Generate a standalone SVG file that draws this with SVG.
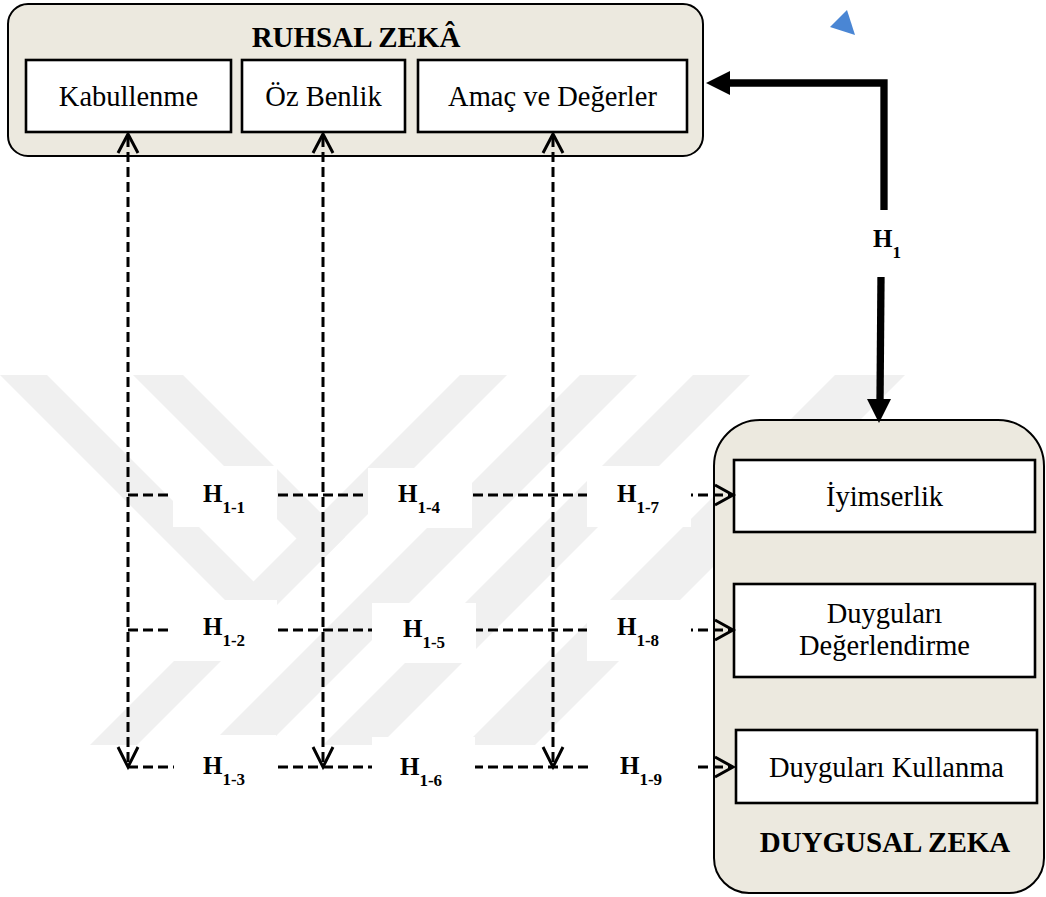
<svg xmlns="http://www.w3.org/2000/svg" width="1046" height="897" viewBox="0 0 1046 897">
<defs>
<style>
.serif{font-family:"Liberation Serif","Times New Roman",serif;fill:#000}
.node{font-size:28.5px;text-anchor:middle}
.title{font-size:29px;font-weight:bold;text-anchor:middle}
.hl{font-size:25px;font-weight:bold}
.hs{font-size:17px;font-weight:bold}
.box{fill:#fff;stroke:#000;stroke-width:2.6}
.container{fill:#ece9df;stroke:#000;stroke-width:2}
.dash{fill:none;stroke:#000;stroke-width:3;stroke-dasharray:10 5}
.head{fill:none;stroke:#000;stroke-width:3}
.thick{fill:none;stroke:#000;stroke-width:7.3}
.wm{fill:#f0f0f0}
.lblbg{fill:#fff}
</style>
<clipPath id="wmclip"><rect x="0" y="375" width="920" height="370"/></clipPath>
</defs>
<rect width="1046" height="897" fill="#fff"/>
<g id="watermark" class="wm" clip-path="url(#wmclip)">
<polygon points="460,375 507,375 137,745 90,745"/>
<polygon points="580,375 637,375 267,745 210,745"/>
<polygon points="693,375 750,375 380,745 323,745"/>
<polygon points="835,375 905,375 535,745 465,745"/>
<polygon points="0,375 47,375 277,605 253.5,628.5"/>
<polygon points="133,375 183,375 345,537 320,562"/>
</g>
<g id="ruhsal-zeka">
<rect class="container" x="8" y="4" width="695" height="152" rx="20"/>
<text class="serif title" x="356" y="47">RUHSAL ZEKÂ</text>
</g>
<g id="kabullenme"><rect class="box" x="26" y="60" width="205" height="72"/><text class="serif node" x="128.5" y="106">Kabullenme</text></g>
<g id="oz-benlik"><rect class="box" x="242" y="60" width="163" height="72"/><text class="serif node" x="323.5" y="106">Öz Benlik</text></g>
<g id="amac-ve-degerler"><rect class="box" x="418" y="60" width="269" height="72"/><text class="serif node" x="552.5" y="106">Amaç ve Değerler</text></g>
<g id="duygusal-zeka">
<path class="container" d="M760,420 H998 A46,46 0 0 1 1044,466 V858 A35,35 0 0 1 1009,893 H749 A35,35 0 0 1 714,858 V466 A46,46 0 0 1 760,420 Z"/>
<text class="serif title" x="885" y="852">DUYGUSAL ZEKA</text>
</g>
<g id="iyimserlik"><rect class="box" x="734" y="460" width="301" height="72"/><text class="serif node" x="884.5" y="506">İyimserlik</text></g>
<g id="duygulari-degerlendirme"><rect class="box" x="734" y="584" width="301" height="93"/><text class="serif node" x="884.5" y="623">Duyguları</text><text class="serif node" x="884.5" y="655">Değerlendirme</text></g>
<g id="duygulari-kullanma"><rect class="box" x="736" y="730" width="301" height="73"/><text class="serif node" x="886.5" y="777">Duyguları Kullanma</text></g>
<g id="connectors">
<path class="dash" d="M128,137 V765"/>
<path class="dash" d="M323,137 V765"/>
<path class="dash" d="M553,137 V765"/>
<path class="head" d="M118,153 L128,134 L138,153"/>
<path class="head" d="M313,153 L323,134 L333,153"/>
<path class="head" d="M543,153 L553,134 L563,153"/>
<path class="head" d="M118,747 L128,767 L138,747"/>
<path class="head" d="M313,747 L323,767 L333,747"/>
<path class="head" d="M543,747 L553,767 L563,747"/>
<path class="dash" d="M128,495 H731"/>
<path class="dash" d="M128,630 H731"/>
<path class="dash" d="M128,767 H731"/>
<path class="head" d="M715,485 L733,495 L715,505"/>
<path class="head" d="M715,620 L733,630 L715,640"/>
<path class="head" d="M715,757 L733,767 L715,777"/>
<path class="thick" d="M884,210 V83 H727"/>
<polygon points="706,83 730,71 730,95" fill="#000"/>
<path class="thick" d="M881,277 L880,402"/>
<polygon points="867,399 891,399 879,423" fill="#000"/>
</g>
<g id="labels">
<g id="h1"><text class="serif" x="873" y="247"><tspan class="hl">H</tspan><tspan class="hs" dy="11">1</tspan></text></g>
<g id="h1-1"><rect class="lblbg" x="173" y="466" width="104" height="61"/><text class="serif" x="203" y="502"><tspan class="hl">H</tspan><tspan class="hs" dy="11">1-1</tspan></text></g>
<g id="h1-4"><rect class="lblbg" x="368" y="468" width="104" height="60"/><text class="serif" x="398" y="502"><tspan class="hl">H</tspan><tspan class="hs" dy="11">1-4</tspan></text></g>
<g id="h1-7"><rect class="lblbg" x="587" y="466" width="104" height="61"/><text class="serif" x="617" y="502"><tspan class="hl">H</tspan><tspan class="hs" dy="11">1-7</tspan></text></g>
<g id="h1-2"><rect class="lblbg" x="173" y="600" width="104" height="61"/><text class="serif" x="203" y="635"><tspan class="hl">H</tspan><tspan class="hs" dy="11">1-2</tspan></text></g>
<g id="h1-5"><rect class="lblbg" x="372" y="603" width="104" height="60"/><text class="serif" x="403" y="637"><tspan class="hl">H</tspan><tspan class="hs" dy="11">1-5</tspan></text></g>
<g id="h1-8"><rect class="lblbg" x="587" y="600" width="104" height="61"/><text class="serif" x="617" y="635"><tspan class="hl">H</tspan><tspan class="hs" dy="11">1-8</tspan></text></g>
<g id="h1-3"><rect class="lblbg" x="174" y="735" width="102" height="61"/><text class="serif" x="203" y="774"><tspan class="hl">H</tspan><tspan class="hs" dy="11">1-3</tspan></text></g>
<g id="h1-6"><rect class="lblbg" x="372" y="737" width="103" height="60"/><text class="serif" x="400" y="775"><tspan class="hl">H</tspan><tspan class="hs" dy="11">1-6</tspan></text></g>
<g id="h1-9"><rect class="lblbg" x="589" y="735" width="105" height="61"/><text class="serif" x="620" y="774"><tspan class="hl">H</tspan><tspan class="hs" dy="11">1-9</tspan></text></g>
</g>
<g id="blue-marker"><polygon points="830,27 847,10 855,35" fill="#4a86d4"/></g>
</svg>
